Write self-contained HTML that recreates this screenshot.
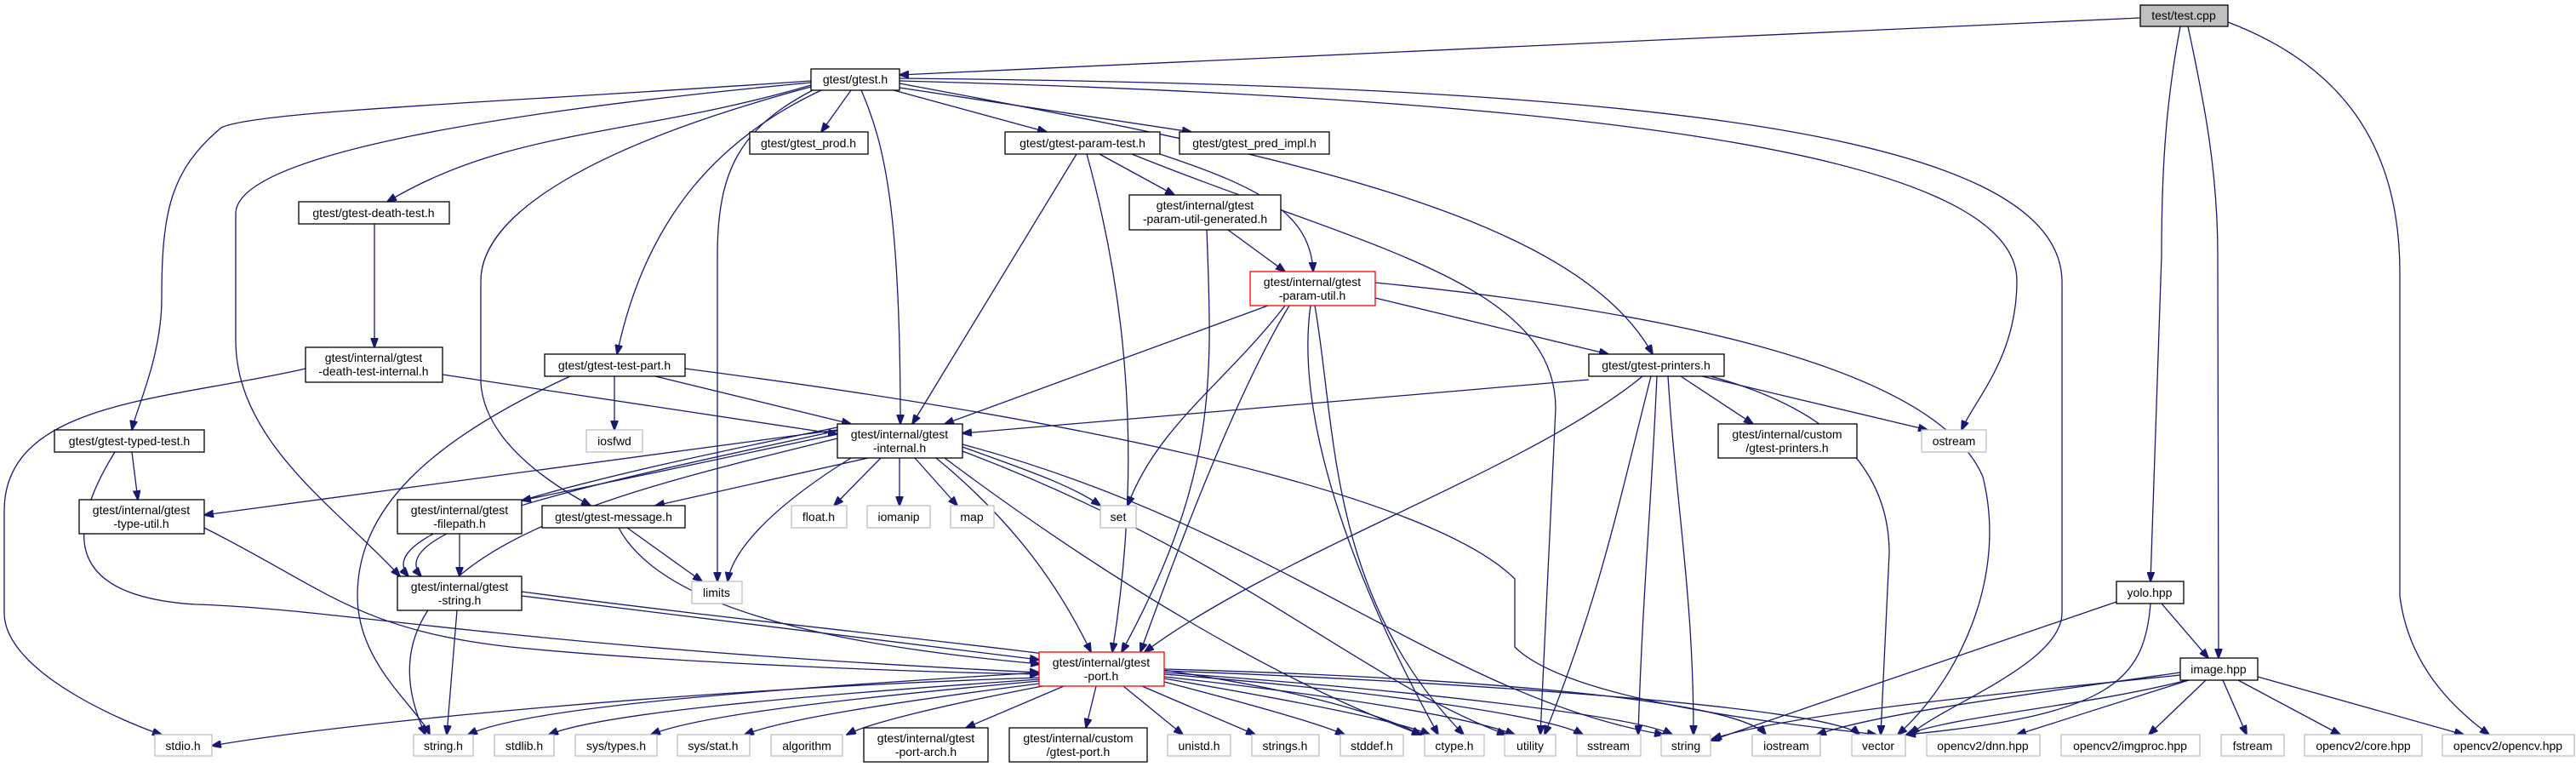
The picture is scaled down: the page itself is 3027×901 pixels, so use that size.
<!DOCTYPE html>
<html><head><meta charset="utf-8"><style>
html,body{margin:0;padding:0;background:#fff;}
svg{display:block;}
text{font-family:"Liberation Sans",sans-serif;font-size:14px;fill:#000;text-anchor:middle;}
.e{fill:none;stroke:#191970;stroke-width:1.3;}
.b{fill:#fff;stroke:#000;stroke-width:1.3;}
.g{fill:#fff;stroke:#bfbfbf;stroke-width:1.3;}
.r{fill:#fff;stroke:#ff0000;stroke-width:1.3;}
</style></head><body>
<svg width="3027" height="901" viewBox="0 0 3027 901" xmlns="http://www.w3.org/2000/svg">
<defs><marker id="a" markerWidth="12" markerHeight="9" refX="11" refY="4.5" orient="auto" markerUnits="userSpaceOnUse"><path d="M0,0 L12,4.5 L0,9 Z" fill="#191970" stroke="#191970"/></marker></defs>
<g class="e" marker-end="url(#a)">
<!-- test.cpp -->
<path d="M2515,21 L1057,88"/>
<path d="M2562,31 C2545,120 2540,200 2540,300 L2527,683"/>
<path d="M2571,31 C2590,120 2606,200 2606,300 L2607,773"/>
<path d="M2618,26 C2760,80 2820,180 2820,320 L2820,700 C2830,780 2880,830 2925,863"/>
<!-- gtest.h -->
<path d="M1000,106 L965,155"/>
<path d="M1050,106 L1230,155"/>
<path d="M1057,103 L1400,155"/>
<path d="M1057,98 C1500,180 1850,250 1942,416"/>
<path d="M1057,95 C1800,115 2370,170 2370,330 C2370,420 2320,470 2305,505"/>
<path d="M1057,92 C1900,100 2420,150 2423,330 L2423,720 C2423,780 2280,830 2245,863"/>
<path d="M953,100 C750,160 600,150 455,237"/>
<path d="M953,95 C600,120 300,130 260,150 C200,200 190,250 190,350 C190,420 160,480 155,505"/>
<path d="M953,97 C600,130 280,180 277,250 L277,400 C277,520 400,600 470,677"/>
<path d="M953,102 C700,170 565,250 565,330 L565,450 C570,520 650,570 694,594"/>
<path d="M965,106 C850,160 760,250 725,416"/>
<path d="M955,106 C870,150 843,200 843,300 L843,683"/>
<path d="M1012,106 C1040,170 1058,250 1058,498"/>
<!-- param-test -->
<path d="M1265,181 L1072,498"/>
<path d="M1277,181 C1310,300 1350,500 1307,766"/>
<path d="M1292,181 L1380,229"/>
<path d="M1363,181 C1480,220 1540,250 1543,319"/>
<path d="M1330,181 C1600,290 1828,330 1828,480 L1810,863"/>
<!-- param-util-generated -->
<path d="M1513,270 L1513,319" style="display:none"/>
<path d="M1443,270 L1510,319"/>
<path d="M1418,270 C1425,450 1430,560 1318,766"/>
<!-- param-util -->
<path d="M1490,359 L1110,498"/>
<path d="M1515,359 C1460,450 1400,600 1340,766"/>
<path d="M1540,359 C1520,500 1600,700 1690,863"/>
<path d="M1545,359 C1570,500 1560,700 1720,863"/>
<path d="M1510,359 C1440,450 1360,500 1325,594"/>
<path d="M1616,350 L1890,416"/>
<path d="M1616,332 C1900,360 2270,420 2330,560 C2360,680 2300,800 2230,863"/>
<!-- printers -->
<path d="M1867,446 L1131,509"/>
<path d="M1930,442 C1800,550 1500,650 1345,766"/>
<path d="M1975,442 L2060,498"/>
<path d="M2000,442 L2265,505"/>
<path d="M2010,442 C2150,480 2220,550 2220,650 L2210,863"/>
<path d="M1940,442 C1900,600 1880,700 1815,863"/>
<path d="M1947,442 C1940,600 1930,700 1925,863"/>
<path d="M1960,442 C1970,600 1990,700 1990,863"/>
<!-- test-part -->
<path d="M722,442 L722,505"/>
<path d="M770,442 L1000,498"/>
<path d="M670,442 C500,520 420,600 420,700 C420,780 490,830 505,863"/>
<path d="M805,433 C1400,510 1700,600 1780,680 L1780,760 C1850,830 2150,855 2205,863"/>
<!-- death test -->
<path d="M440,263 L440,408"/>
<path d="M520,440 L984,510"/>
<path d="M359,433 C200,470 5,470 5,600 L5,720 C5,790 150,850 190,863"/>
<!-- typed test -->
<path d="M155,531 L162,587"/>
<path d="M135,531 C80,620 70,700 230,710 C400,715 600,760 1221,790"/>
<path d="M240,620 C380,690 420,740 600,760 C800,780 1100,790 1221,792"/>
<!-- gtest-internal -->
<path d="M984,505 L240,605"/>
<path d="M984,510 L613,588"/>
<path d="M984,502 C700,560 430,620 480,677"/>
<path d="M984,506 C710,565 445,620 495,677"/>
<path d="M984,515 C720,580 400,650 500,863"/>
<path d="M1020,538 L770,594"/>
<path d="M1000,538 C900,600 860,650 855,683"/>
<path d="M1035,538 L980,594"/>
<path d="M1057,538 L1057,594"/>
<path d="M1075,538 L1125,594"/>
<path d="M1131,525 C1200,550 1260,570 1293,594"/>
<path d="M1100,538 C1200,620 1250,700 1282,766"/>
<path d="M1110,538 C1300,680 1500,800 1670,863"/>
<path d="M1131,530 C1450,650 1600,800 1770,863"/>
<path d="M1131,522 C1500,620 1700,820 1955,863"/>
<!-- filepath / message / string -->
<path d="M540,627 L540,677"/>
<path d="M737,620 L825,683"/>
<path d="M727,620 C780,720 1000,760 1222,780"/>
<path d="M537,717 L525,863"/>
<path d="M613,700 L1221,775"/>
<path d="M613,695 C1100,760 1500,780 1670,863"/>
<!-- gtest-port -->
<path d="M1221,796 C800,810 400,850 249,876"/>
<path d="M1221,790 C900,810 620,830 550,863"/>
<path d="M1221,798 C900,820 700,840 645,863"/>
<path d="M1221,800 C1000,820 820,840 765,863"/>
<path d="M1221,803 C1050,825 920,845 875,863"/>
<path d="M1225,806 C1100,830 1020,850 995,863"/>
<path d="M1250,806 L1135,855"/>
<path d="M1288,806 L1276,855"/>
<path d="M1320,806 L1390,863"/>
<path d="M1342,806 L1475,863"/>
<path d="M1368,801 C1480,830 1550,850 1580,863"/>
<path d="M1368,797 C1500,820 1640,845 1680,863"/>
<path d="M1368,795 C1550,815 1720,840 1780,863"/>
<path d="M1368,792 C1600,810 1820,840 1860,863"/>
<path d="M1368,790 C1650,810 1920,840 1965,863"/>
<path d="M1368,788 C1700,800 2150,830 2185,863"/>
<path d="M1368,786 C1700,795 2040,820 2075,863"/>
<!-- yolo -->
<path d="M2540,709 L2595,773"/>
<path d="M2487,707 L2010,870"/>
<path d="M2527,709 C2520,800 2480,840 2240,863"/>
<!-- image -->
<path d="M2562,793 C2300,820 2100,840 2012,868"/>
<path d="M2562,790 C2350,820 2200,840 2135,863"/>
<path d="M2570,799 C2450,830 2300,840 2240,863"/>
<path d="M2572,799 L2370,863"/>
<path d="M2592,799 L2525,863"/>
<path d="M2612,799 L2640,863"/>
<path d="M2630,799 L2750,863"/>
<path d="M2653,795 L2895,863"/>
</g>
<!-- nodes -->
<rect x="2515" y="6" width="103" height="25" fill="#bfbfbf" stroke="#000" stroke-width="1.3"/><text x="2566" y="23">test/test.cpp</text>
<rect class="b" x="953" y="81" width="104" height="25"/><text x="1005" y="98">gtest/gtest.h</text>
<rect class="b" x="881" y="155" width="139" height="26"/><text x="950" y="173">gtest/gtest_prod.h</text>
<rect class="b" x="1181" y="155" width="182" height="26"/><text x="1272" y="173">gtest/gtest-param-test.h</text>
<rect class="b" x="1386" y="155" width="176" height="26"/><text x="1474" y="173">gtest/gtest_pred_impl.h</text>
<rect class="b" x="351" y="237" width="177" height="26"/><text x="439" y="255">gtest/gtest-death-test.h</text>
<rect class="b" x="1327" y="229" width="178" height="41"/><text x="1416" y="246">gtest/internal/gtest</text><text x="1416" y="262">-param-util-generated.h</text>
<rect class="r" x="1469" y="319" width="147" height="40"/><text x="1542" y="336">gtest/internal/gtest</text><text x="1542" y="352">-param-util.h</text>
<rect class="b" x="359" y="408" width="161" height="41"/><text x="439" y="425">gtest/internal/gtest</text><text x="439" y="441">-death-test-internal.h</text>
<rect class="b" x="640" y="416" width="165" height="26"/><text x="722" y="434">gtest/gtest-test-part.h</text>
<rect class="b" x="1867" y="416" width="159" height="26"/><text x="1946" y="434">gtest/gtest-printers.h</text>
<rect class="b" x="64" y="505" width="176" height="26"/><text x="152" y="523">gtest/gtest-typed-test.h</text>
<rect class="g" x="689" y="505" width="66" height="26"/><text x="722" y="523">iosfwd</text>
<rect class="b" x="984" y="498" width="147" height="40"/><text x="1057" y="515">gtest/internal/gtest</text><text x="1057" y="531">-internal.h</text>
<rect class="b" x="2019" y="498" width="163" height="40"/><text x="2100" y="515">gtest/internal/custom</text><text x="2100" y="531">/gtest-printers.h</text>
<rect class="g" x="2258" y="505" width="76" height="26"/><text x="2296" y="523">ostream</text>
<rect class="b" x="93" y="587" width="147" height="40"/><text x="166" y="604">gtest/internal/gtest</text><text x="166" y="620">-type-util.h</text>
<rect class="b" x="467" y="587" width="146" height="40"/><text x="540" y="604">gtest/internal/gtest</text><text x="540" y="620">-filepath.h</text>
<rect class="b" x="637" y="594" width="168" height="26"/><text x="721" y="612">gtest/gtest-message.h</text>
<rect class="g" x="930" y="594" width="65" height="26"/><text x="962" y="612">float.h</text>
<rect class="g" x="1019" y="594" width="74" height="26"/><text x="1056" y="612">iomanip</text>
<rect class="g" x="1117" y="594" width="51" height="26"/><text x="1142" y="612">map</text>
<rect class="g" x="1293" y="594" width="42" height="26"/><text x="1314" y="612">set</text>
<rect class="g" x="813" y="683" width="59" height="26"/><text x="842" y="701">limits</text>
<rect class="b" x="467" y="677" width="146" height="40"/><text x="540" y="694">gtest/internal/gtest</text><text x="540" y="710">-string.h</text>
<rect class="b" x="2487" y="683" width="79" height="26"/><text x="2526" y="701">yolo.hpp</text>
<rect class="r" x="1221" y="766" width="147" height="40"/><text x="1294" y="783">gtest/internal/gtest</text><text x="1294" y="799">-port.h</text>
<rect class="b" x="2562" y="773" width="91" height="26"/><text x="2607" y="791">image.hpp</text>
<rect class="b" x="1015" y="855" width="146" height="40"/><text x="1088" y="872">gtest/internal/gtest</text><text x="1088" y="888">-port-arch.h</text>
<rect class="b" x="1186" y="855" width="162" height="40"/><text x="1267" y="872">gtest/internal/custom</text><text x="1267" y="888">/gtest-port.h</text>
<g>
<rect class="g" x="182" y="863" width="67" height="25"/><text x="215" y="881">stdio.h</text>
<rect class="g" x="486" y="863" width="70" height="25"/><text x="521" y="881">string.h</text>
<rect class="g" x="581" y="863" width="70" height="25"/><text x="616" y="881">stdlib.h</text>
<rect class="g" x="676" y="863" width="96" height="25"/><text x="724" y="881">sys/types.h</text>
<rect class="g" x="796" y="863" width="85" height="25"/><text x="838" y="881">sys/stat.h</text>
<rect class="g" x="906" y="863" width="84" height="25"/><text x="948" y="881">algorithm</text>
<rect class="g" x="1372" y="863" width="74" height="25"/><text x="1409" y="881">unistd.h</text>
<rect class="g" x="1471" y="863" width="79" height="25"/><text x="1510" y="881">strings.h</text>
<rect class="g" x="1575" y="863" width="74" height="25"/><text x="1612" y="881">stddef.h</text>
<rect class="g" x="1674" y="863" width="70" height="25"/><text x="1709" y="881">ctype.h</text>
<rect class="g" x="1768" y="863" width="60" height="25"/><text x="1798" y="881">utility</text>
<rect class="g" x="1853" y="863" width="75" height="25"/><text x="1890" y="881">sstream</text>
<rect class="g" x="1952" y="863" width="58" height="25"/><text x="1981" y="881">string</text>
<rect class="g" x="2059" y="863" width="80" height="25"/><text x="2099" y="881">iostream</text>
<rect class="g" x="2176" y="863" width="63" height="25"/><text x="2207" y="881">vector</text>
<rect class="g" x="2264" y="863" width="133" height="25"/><text x="2330" y="881">opencv2/dnn.hpp</text>
<rect class="g" x="2422" y="863" width="163" height="25"/><text x="2503" y="881">opencv2/imgproc.hpp</text>
<rect class="g" x="2610" y="863" width="74" height="25"/><text x="2647" y="881">fstream</text>
<rect class="g" x="2708" y="863" width="138" height="25"/><text x="2777" y="881">opencv2/core.hpp</text>
<rect class="g" x="2870" y="863" width="155" height="25"/><text x="2947" y="881">opencv2/opencv.hpp</text>
</g>
</svg>
</body></html>
